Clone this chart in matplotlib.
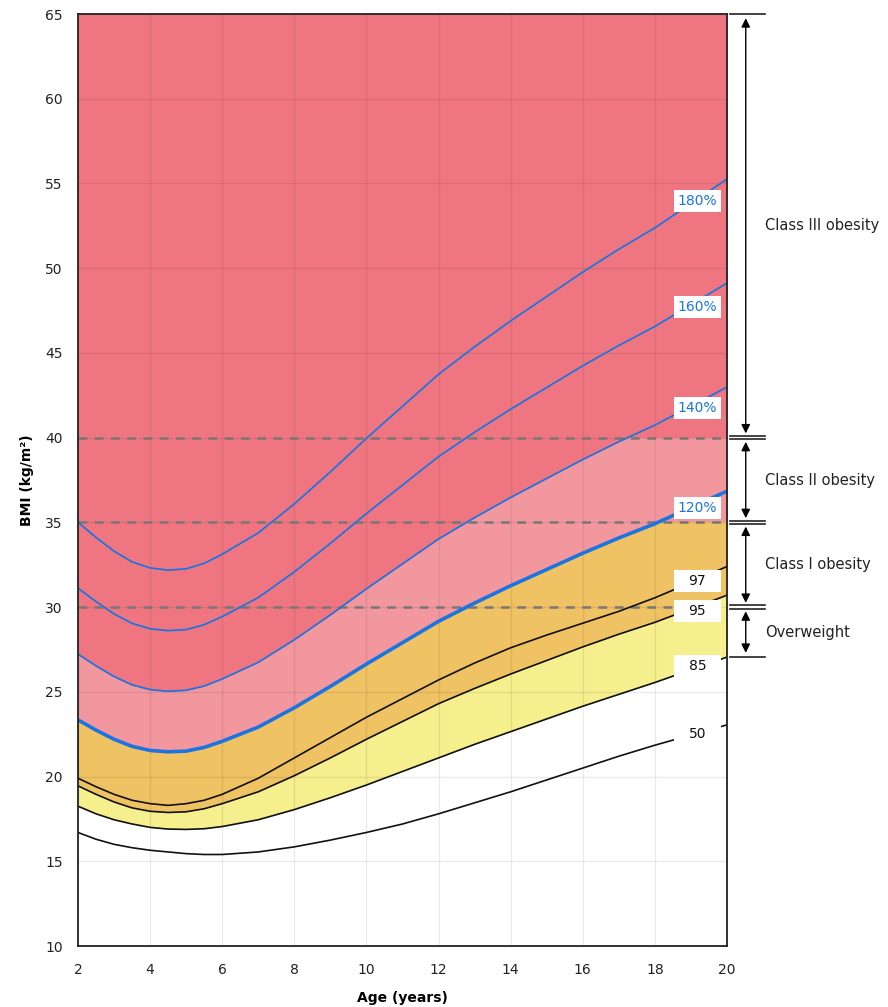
import numpy as np
import matplotlib
matplotlib.use("Agg")
import matplotlib.pyplot as plt
from matplotlib.patches import Rectangle

# ---------------- data ----------------
ages = [2, 2.5, 3, 3.5, 4, 4.5, 5, 5.5, 6, 7, 8, 9, 10, 11, 12, 13, 14, 15, 16, 17, 18, 19, 20]

p50 = [16.7, 16.3, 16.0, 15.8, 15.65, 15.55, 15.45, 15.4, 15.4, 15.55, 15.85, 16.25, 16.7,
       17.2, 17.8, 18.45, 19.1, 19.8, 20.5, 21.2, 21.85, 22.45, 23.05]
p85 = [18.25, 17.8, 17.45, 17.2, 17.0, 16.9, 16.88, 16.92, 17.05, 17.45, 18.05, 18.75, 19.5,
       20.3, 21.1, 21.9, 22.65, 23.4, 24.15, 24.85, 25.55, 26.3, 27.05]
p95 = [19.45, 18.95, 18.5, 18.15, 17.95, 17.88, 17.92, 18.1, 18.4, 19.1, 20.05, 21.1, 22.2,
       23.25, 24.3, 25.2, 26.05, 26.85, 27.65, 28.4, 29.1, 29.9, 30.7]
p97 = [19.9, 19.4, 18.95, 18.6, 18.4, 18.3, 18.4, 18.6, 18.95, 19.9, 21.1, 22.3, 23.5,
       24.6, 25.7, 26.7, 27.6, 28.35, 29.05, 29.75, 30.55, 31.45, 32.4]
pct120 = [23.34, 22.74, 22.2, 21.78, 21.54, 21.46, 21.5, 21.72, 22.08, 22.92, 24.06, 25.32, 26.64,
          27.9, 29.16, 30.24, 31.26, 32.22, 33.18, 34.08, 34.92, 35.88, 36.84]
pct140 = [27.23, 26.53, 25.9, 25.41, 25.13, 25.03, 25.09, 25.34, 25.76, 26.74, 28.07, 29.54, 31.08,
          32.55, 34.02, 35.28, 36.47, 37.59, 38.71, 39.76, 40.74, 41.86, 42.98]
pct160 = [31.12, 30.32, 29.6, 29.04, 28.72, 28.61, 28.67, 28.96, 29.44, 30.56, 32.08, 33.76, 35.52,
          37.2, 38.88, 40.32, 41.68, 42.96, 44.24, 45.44, 46.56, 47.84, 49.12]
pct180 = [35.01, 34.11, 33.3, 32.67, 32.31, 32.18, 32.26, 32.58, 33.12, 34.38, 36.09, 37.98, 39.96,
          41.85, 43.74, 45.36, 46.89, 48.33, 49.77, 51.12, 52.38, 53.82, 55.26]

x_ticks = [2, 4, 6, 8, 10, 12, 14, 16, 18, 20]
y_ticks = [10, 15, 20, 25, 30, 35, 40, 45, 50, 55, 60, 65]
cutoffs = [30, 35, 40]
class_names = ["Class III obesity", "Class II obesity", "Class I obesity", "Overweight"]
curve_labels = ["180%", "160%", "140%", "120%", "97", "95", "85", "50"]

# ---------------- style ----------------
RED = "#EF7680"
PINK = "#F2979E"
ORANGE = "#EFC264"
YELLOW = "#F5EF8E"
BLUE = "#1A74E2"
BLACK = "#111111"

plt.rcParams["font.family"] = ["DejaVu Sans"]

fig = plt.figure(figsize=(8.88, 10.07), dpi=100)
ax = fig.add_axes([78 / 888, 1 - 946 / 1007, (727 - 78) / 888, (946 - 14) / 1007])
ax.set_xlim(2, 20)
ax.set_ylim(10, 65)

a = np.array(ages, dtype=float)
top = np.full_like(a, 65.0)

# Fills (layered)
ax.fill_between(a, p95, top, color=RED, lw=0, zorder=1.0)
pk = ax.fill_between(a, p95, pct140, color=PINK, lw=0, zorder=1.1)
pk.set_clip_path(Rectangle((2, 0), 18, 40, transform=ax.transData))
og = ax.fill_between(a, p95, pct120, color=ORANGE, lw=0, zorder=1.2)
og.set_clip_path(Rectangle((2, 0), 18, 35, transform=ax.transData))
ax.fill_between(a, p85, p95, color=YELLOW, lw=0, zorder=1.3)

# grid
ax.set_xticks(x_ticks)
ax.set_yticks(y_ticks)
ax.grid(True, color="black", alpha=0.08, lw=1.0, zorder=1.5)
ax.set_axisbelow(False)
for gl in ax.get_xgridlines() + ax.get_ygridlines():
    gl.set_zorder(1.5)

# dashed cutoffs
for c in cutoffs:
    ax.axhline(c, color="#777777", lw=1.8, ls=(0, (3.5, 3)), zorder=2.8)

# curves
for ser in (p50, p85, p95, p97):
    ax.plot(a, ser, color=BLACK, lw=1.2, zorder=3)
ax.plot(a, pct120, color=BLUE, lw=2.6, zorder=3.2, solid_capstyle="butt")
for ser in (pct140, pct160, pct180):
    ax.plot(a, ser, color=BLUE, lw=1.25, zorder=3.1)

# curve labels in white boxes
label_y = [53.96, 47.71, 41.75, 35.85, 31.52, 29.77, 26.52, 22.51]
label_col = [BLUE] * 4 + [BLACK] * 4
bw, bh = 1.30, 1.30
for txt, yy, col in zip(curve_labels, label_y, label_col):
    ax.add_patch(Rectangle((19.18 - bw / 2, yy - bh / 2), bw, bh, facecolor="white",
                           edgecolor="none", zorder=4))
    ax.text(19.18, yy, txt, ha="center", va="center", fontsize=10, color=col, zorder=5)

# axes cosmetics
for s in ax.spines.values():
    s.set_color("#222222")
    s.set_linewidth(1.3)
    s.set_zorder(6)
ax.tick_params(length=0, labelsize=10, labelcolor="#222222")
ax.tick_params(axis="y", pad=11)
ax.tick_params(axis="x", pad=12)
ax.set_xlabel("Age (years)", fontsize=10, fontweight="bold", labelpad=10)
ax.set_ylabel("BMI (kg/m²)", fontsize=10, fontweight="bold", labelpad=8)

# right-hand class brackets
x0, x1, xa, xt = 20.08, 21.05, 20.52, 21.05
bounds = [65, 40, 35, 30, p85[-1]]
for b in bounds:
    if b in cutoffs:
        for d in (-0.1, 0.1):
            ax.plot([x0, x1], [b + d, b + d], color="#222222", lw=1.2, clip_on=False, zorder=5)
    else:
        ax.plot([x0, x1], [b, b], color="#222222", lw=1.2, clip_on=False, zorder=5)
for name, hi, lo in zip(class_names, bounds[:-1], bounds[1:]):
    ax.annotate("", xy=(xa, hi - 0.25), xytext=(xa, lo + 0.25), xycoords="data",
                arrowprops=dict(arrowstyle="<|-|>", color="black", lw=1.0,
                                shrinkA=0, shrinkB=0, mutation_scale=13),
                annotation_clip=False, zorder=5)
    ax.text(xt, (hi + lo) / 2, name, ha="left", va="center", fontsize=10.5,
            color="#222222", clip_on=False)

fig.savefig("out.png", dpi=100, facecolor="white")
